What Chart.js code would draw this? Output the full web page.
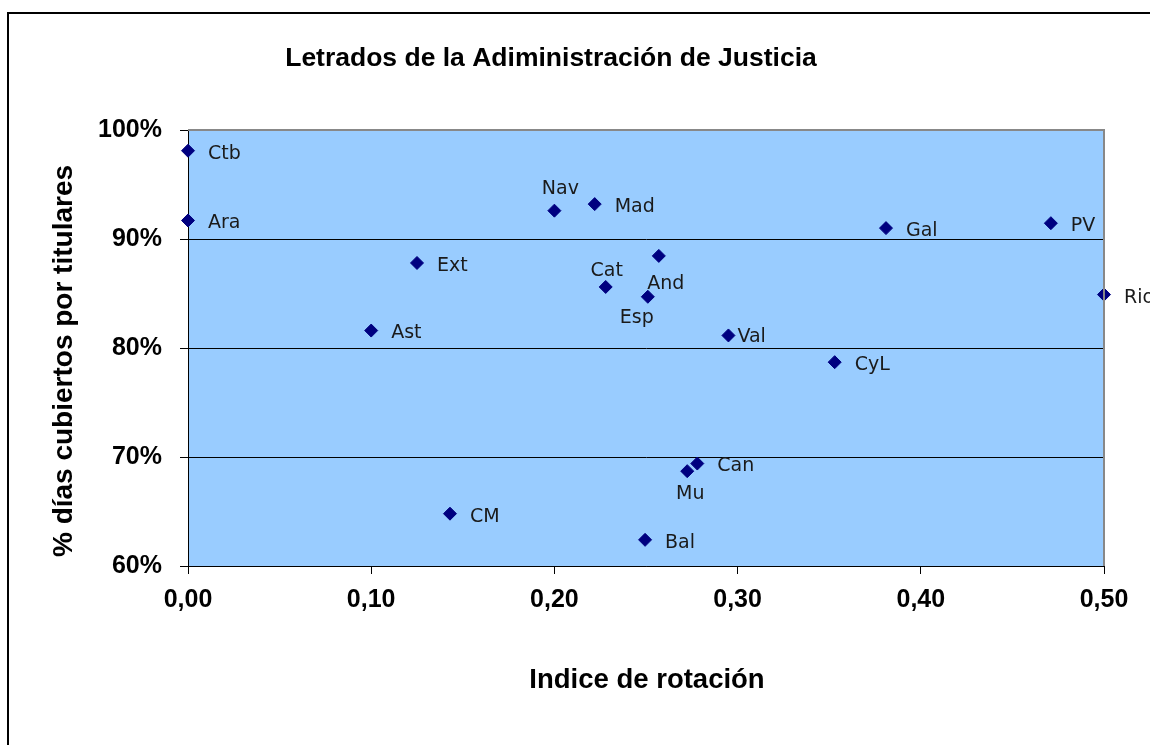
<!DOCTYPE html>
<html lang="es">
<head>
    <meta charset="UTF-8">
    <title>Letrados de la Administración de Justicia</title>
    <script src="https://cdn.jsdelivr.net/npm/chart.js"></script>
    <style>
        html, body { margin: 0; padding: 0; background: #fff; }
        #wrap { position: relative; width: 1150px; height: 745px; }
    </style>
</head>
<body>
    <div id="wrap">
        <canvas id="rotation-chart"></canvas>
    </div>

    <script>
        // Comunidades (etiquetas de los puntos)
        const regions = ['Ctb', 'Ara', 'Nav', 'Mad', 'Gal', 'PV', 'Rio', 'Ext', 'And',
                         'Cat', 'Esp', 'Ast', 'Val', 'CyL', 'Can', 'Mu', 'CM', 'Bal'];
        // Indice de rotación (eje X)
        const rotationIndex = [0, 0, 0.20, 0.222, 0.381, 0.471, 0.50, 0.125, 0.257,
                               0.228, 0.251, 0.10, 0.295, 0.353, 0.278, 0.2725, 0.143, 0.2495];
        // % días cubiertos por titulares (eje Y)
        const coveredDays = [98.1, 91.7, 92.6, 93.2, 91.0, 91.45, 84.9, 87.8, 88.45,
                             85.6, 84.7, 81.6, 81.15, 78.7, 69.4, 68.7, 64.8, 62.4];
        const xTicks = [0, 0.1, 0.2, 0.3, 0.4, 0.5];
        const yTicks = [60, 70, 80, 90, 100];

        const points = regions.map((name, i) => ({ x: rotationIndex[i], y: coveredDays[i] }));

        // where each label sits relative to its marker (default: to the right)
        const labelPlace = {
            Val: { dx: 9, dy: 1, align: 'left' },
            Nav: { dx: 6, dy: -23, align: 'center' },
            Cat: { dx: 1, dy: -17, align: 'center' },
            And: { dx: 7, dy: 27, align: 'center' },
            Esp: { dx: -11, dy: 20, align: 'center' },
            Mu:  { dx: 3, dy: 22, align: 'center' }
        };

        const decor = {
            id: 'decor',
            beforeDraw(chart) {
                const ctx = chart.ctx;
                const a = chart.chartArea;
                ctx.save();
                // outer frame
                ctx.strokeStyle = '#000';
                ctx.lineWidth = 2;
                ctx.beginPath();
                ctx.moveTo(8, 745);
                ctx.lineTo(8, 13);
                ctx.lineTo(1150, 13);
                ctx.stroke();
                // plot background
                ctx.fillStyle = '#99ccff';
                ctx.fillRect(a.left, a.top, a.right - a.left, a.bottom - a.top);
                ctx.restore();
            },
            afterDraw(chart) {
                const ctx = chart.ctx;
                const a = chart.chartArea;
                const meta = chart.getDatasetMeta(0);
                ctx.save();
                // grey plot border top / right
                ctx.strokeStyle = '#888';
                ctx.lineWidth = 2;
                ctx.beginPath();
                ctx.moveTo(a.left, a.top);
                ctx.lineTo(a.right, a.top);
                ctx.lineTo(a.right, a.bottom);
                ctx.stroke();

                // point labels
                ctx.fillStyle = '#1a1a1a';
                ctx.font = '19px "DejaVu Sans", Verdana, sans-serif';
                ctx.textBaseline = 'middle';
                meta.data.forEach((pt, i) => {
                    const p = labelPlace[regions[i]] || { dx: 20, dy: 2, align: 'left' };
                    ctx.textAlign = p.align;
                    ctx.fillText(regions[i], pt.x + p.dx, pt.y + p.dy + 1);
                });

                // titles
                ctx.fillStyle = '#000';
                ctx.textBaseline = 'alphabetic';
                ctx.textAlign = 'center';
                ctx.font = 'bold 26.5px "Liberation Sans", Arial, sans-serif';
                ctx.fillText('Letrados de la Adiministración de Justicia', 551, 66);
                ctx.font = 'bold 27.5px "Liberation Sans", Arial, sans-serif';
                ctx.fillText('Indice de rotación', 647, 688);
                ctx.font = 'bold 28px "Liberation Sans", Arial, sans-serif';
                ctx.translate(72, 361);
                ctx.rotate(-Math.PI / 2);
                ctx.fillText('% días cubiertos por titulares', 0, 0);
                ctx.restore();
            }
        };

        const tickFont = { family: '"Liberation Sans", Arial, sans-serif', size: 25, weight: 'bold' };

        new Chart(document.getElementById('rotation-chart'), {
            type: 'scatter',
            data: {
                datasets: [{
                    data: points,
                    pointStyle: 'rectRot',
                    pointRadius: 6.5,
                    pointBackgroundColor: '#000080',
                    pointBorderColor: '#000080',
                    pointBorderWidth: 1,
                    clip: false
                }]
            },
            options: {
                responsive: true,
                maintainAspectRatio: false,
                animation: false,
                layout: { padding: { left: 0, top: 130, right: 46, bottom: 0 } },
                plugins: {
                    legend: { display: false },
                    tooltip: { enabled: false }
                },
                scales: {
                    x: {
                        type: 'linear',
                        min: 0,
                        max: 0.5,
                        afterBuildTicks: s => { s.ticks = xTicks.map(v => ({ value: v })); },
                        afterFit: s => { s.height = 179; },
                        border: { color: '#000', width: 1 },
                        grid: { drawOnChartArea: false, color: '#000', tickLength: 8 },
                        ticks: {
                            color: '#000',
                            font: tickFont,
                            padding: 11,
                            maxRotation: 0,
                            callback: v => v.toFixed(2).replace('.', ',')
                        }
                    },
                    y: {
                        type: 'linear',
                        min: 60,
                        max: 100,
                        afterBuildTicks: s => { s.ticks = yTicks.map(v => ({ value: v })); },
                        afterFit: s => { s.width = 188; },
                        border: { color: '#000', width: 1 },
                        grid: { color: '#000', lineWidth: 1, tickLength: 8 },
                        ticks: {
                            color: '#000',
                            font: tickFont,
                            padding: 18,
                            callback: v => v + '%'
                        }
                    }
                }
            },
            plugins: [decor]
        });
    </script>
</body>
</html>
